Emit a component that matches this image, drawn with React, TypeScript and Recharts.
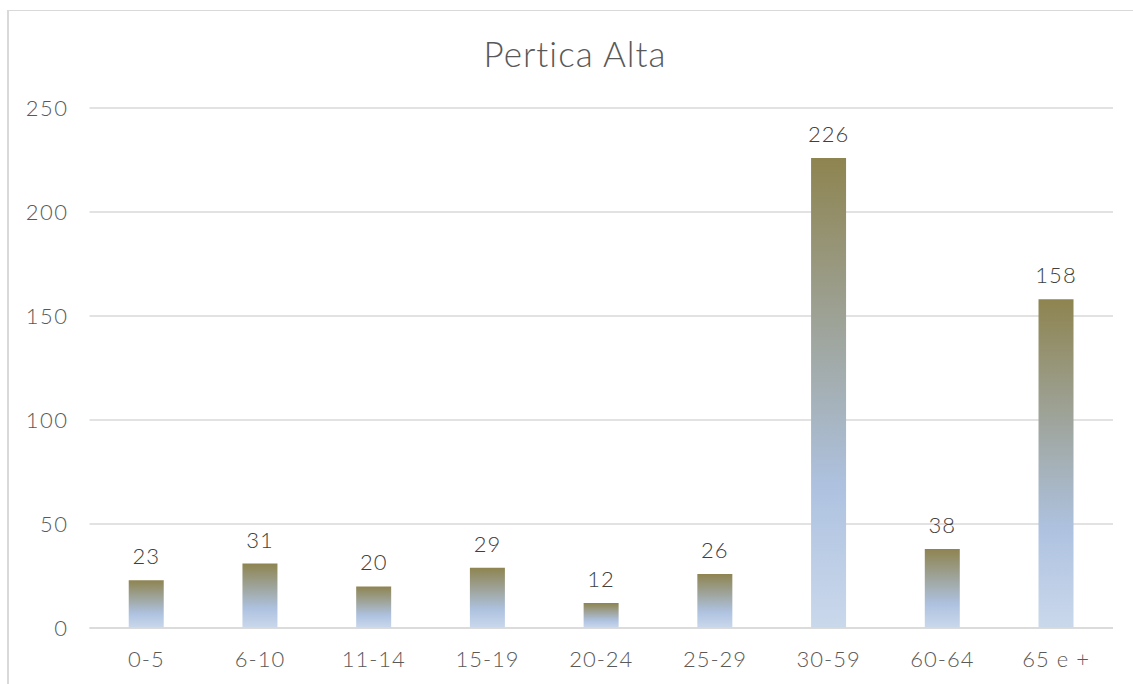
import { BarChart, Bar, XAxis, YAxis, CartesianGrid, LabelList } from "recharts";

const CATEGORIES = ["0-5", "6-10", "11-14", "15-19", "20-24", "25-29", "30-59", "60-64", "65 e +"];
const VALUES = [23, 31, 20, 29, 12, 26, 226, 38, 158];
const Y_TICKS = [0, 50, 100, 150, 200, 250];

const FONT = "Lato, 'Open Sans', sans-serif";

export default function App() {
  const data = CATEGORIES.map((name, i) => ({ name, value: VALUES[i] }));

  return (
    <div style={{ position: "absolute", left: 0, top: 0, width: 1133, height: 684, background: "#fff", overflow: "hidden" }}>
      <div
        style={{
          position: "absolute",
          left: 7,
          top: 10,
          width: 1200,
          height: 800,
          borderLeft: "2px solid #D9D9D9",
          borderTop: "1px solid #D9D9D9",
        }}
      />
      <div
        style={{
          position: "absolute",
          left: 0,
          top: 32,
          width: 1150,
          textAlign: "center",
          fontFamily: FONT,
          fontWeight: 300,
          fontSize: 35,
          letterSpacing: 1,
          color: "#595959",
        }}
      >
        Pertica Alta
      </div>
      <div style={{ position: "absolute", left: 0, top: 0 }}>
        <BarChart
          width={1133}
          height={684}
          data={data}
          margin={{ top: 108, right: 20, bottom: 0, left: 0 }}
          barCategoryGap="34.5%"
        >
          <defs>
            <linearGradient id="barGrad" x1="0" y1="0" x2="0" y2="1">
              <stop offset="0%" stopColor="#8E8450" />
              <stop offset="70%" stopColor="#AEC2E0" />
              <stop offset="100%" stopColor="#CAD8EB" />
            </linearGradient>
          </defs>
          <CartesianGrid vertical={false} stroke="#D9D9D9" strokeWidth={1.5} />
          <XAxis
            dataKey="name"
            height={56}
            axisLine={{ stroke: "#D9D9D9", strokeWidth: 1.5 }}
            tickLine={false}
            tickSize={0}
            tickMargin={23}
            tick={{ fill: "#595959", fontSize: 22, fontFamily: FONT, fontWeight: 300, letterSpacing: 1 }}
          />
          <YAxis
            width={89.5}
            domain={[0, 250]}
            ticks={Y_TICKS}
            axisLine={false}
            tickLine={false}
            tickSize={0}
            tickMargin={21}
            tick={{ fill: "#595959", fontSize: 22, fontFamily: FONT, fontWeight: 300, letterSpacing: 1.5 }}
          />
          <Bar dataKey="value" fill="url(#barGrad)" isAnimationActive={false}>
            <LabelList
              dataKey="value"
              position="top"
              offset={16}
              fill="#404040"
              fontSize={22}
              fontFamily={FONT}
              fontWeight={300}
              letterSpacing={1}
            />
          </Bar>
        </BarChart>
      </div>
    </div>
  );
}
